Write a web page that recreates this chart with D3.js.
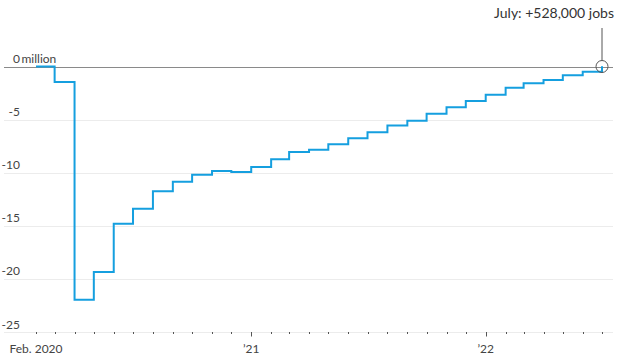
<!DOCTYPE html>
<html lang="en">
<head>
<meta charset="utf-8">
<script src="https://d3js.org/d3.v7.min.js"></script>
<style>
body { margin: 0; background: #fff; }
svg { font-family: Lato, "Open Sans", sans-serif; }
.grid { stroke: #ececec; stroke-width: 1; }
.zero { stroke: #8a8a8a; stroke-width: 1; }
.ylab { fill: #444; font-size: 12px; }
.xlab { fill: #444; font-size: 12px; }
.jobs { fill: none; stroke: #159fdf; stroke-width: 2; }
.note { fill: #333; font-size: 14px; }
</style>
</head>
<body>
<div id="chart"></div>
<script>
var width = 624,
    height = 362;

// month of each reading (first day of month)
var months = ["2020-02", "2020-03", "2020-04", "2020-05", "2020-06", "2020-07",
    "2020-08", "2020-09", "2020-10", "2020-11", "2020-12", "2021-01",
    "2021-02", "2021-03", "2021-04", "2021-05", "2021-06", "2021-07",
    "2021-08", "2021-09", "2021-10", "2021-11", "2021-12", "2022-01",
    "2022-02", "2022-03", "2022-04", "2022-05", "2022-06", "2022-07"];

// jobs vs. Feb. 2020 level, millions
var change = [0, -1.46, -21.96, -19.35, -14.8, -13.4,
    -11.75, -10.85, -10.2, -9.84, -9.93, -9.46,
    -8.74, -8.05, -7.83, -7.33, -6.76, -6.2,
    -5.55, -5.1, -4.45, -3.84, -3.25, -2.65,
    -2.0, -1.58, -1.27, -0.83, -0.49, 0.03];

var yTicks = [0, -5, -10, -15, -20, -25];
var xLabels = [["2020-02", "Feb. 2020"], ["2021-01", "\u201921"], ["2022-01", "\u201922"]];
var noteText = "July: +528,000 jobs";

var parse = d3.timeParse("%Y-%m");
var data = months.map(function (m, i) { return { date: parse(m), v: change[i] }; });

var x = d3.scaleTime()
    .domain(d3.extent(data, function (d) { return d.date; }))
    .range([36, 602]);

var y = d3.scaleLinear()
    .domain([0, -25])
    .range([66.5, 332]);

var svg = d3.select("#chart").append("svg")
    .attr("width", width)
    .attr("height", height);

// horizontal gridlines + labels
svg.append("g").selectAll("line")
    .data(yTicks.filter(function (d) { return d !== 0; }))
    .enter().append("line")
    .attr("class", "grid")
    .attr("x1", 4).attr("x2", 613)
    .attr("y1", function (d) { return Math.round(y(d)) + 0.5; })
    .attr("y2", function (d) { return Math.round(y(d)) + 0.5; });

svg.append("g").selectAll("text")
    .data(yTicks)
    .enter().append("text")
    .attr("class", "ylab")
    .attr("x", 20)
    .attr("y", function (d) { return y(d) - 3.5; })
    .attr("text-anchor", "end")
    .text(function (d) { return d; });

svg.append("text")
    .attr("class", "ylab")
    .attr("x", 21.5)
    .attr("y", y(0) - 3.5)
    .text("million");

// x axis ticks
var ticks = d3.timeMonth.range(x.domain()[0], d3.timeMonth.offset(x.domain()[1], 1));
svg.append("g").selectAll("line")
    .data(ticks)
    .enter().append("line")
    .attr("x1", function (d) { return Math.round(x(d)) + 0.5; })
    .attr("x2", function (d) { return Math.round(x(d)) + 0.5; })
    .attr("y1", y(-25))
    .attr("y2", function (d) { return d.getMonth() === 0 ? y(-25) + 4.5 : y(-25) + 2; })
    .attr("stroke", "#555")
    .attr("stroke-width", 1);

svg.append("g").selectAll("text")
    .data(xLabels)
    .enter().append("text")
    .attr("class", "xlab")
    .attr("x", function (d) { return x(parse(d[0])); })
    .attr("y", 353)
    .attr("text-anchor", "middle")
    .text(function (d) { return d[1]; });

// zero line
svg.append("line")
    .attr("class", "zero")
    .attr("x1", 4).attr("x2", 613)
    .attr("y1", Math.round(y(0)) + 0.5)
    .attr("y2", Math.round(y(0)) + 0.5);

// step line
var line = d3.line()
    .curve(d3.curveStepAfter)
    .x(function (d) { return x(d.date); })
    .y(function (d) { return y(d.v); });

svg.append("path")
    .datum(data)
    .attr("class", "jobs")
    .attr("d", line);

// annotation
var last = data[data.length - 1];
var cx = x(last.date), cy = y(0);
svg.append("circle")
    .attr("cx", cx).attr("cy", cy).attr("r", 6)
    .attr("fill", "none")
    .attr("stroke", "#555")
    .attr("stroke-width", 1);

svg.append("line")
    .attr("x1", cx).attr("x2", cx)
    .attr("y1", cy - 6).attr("y2", 28)
    .attr("stroke", "#555")
    .attr("stroke-width", 1);

svg.append("text")
    .attr("class", "note")
    .attr("x", 614)
    .attr("y", 18)
    .attr("text-anchor", "end")
    .text(noteText);
</script>
</body>
</html>
